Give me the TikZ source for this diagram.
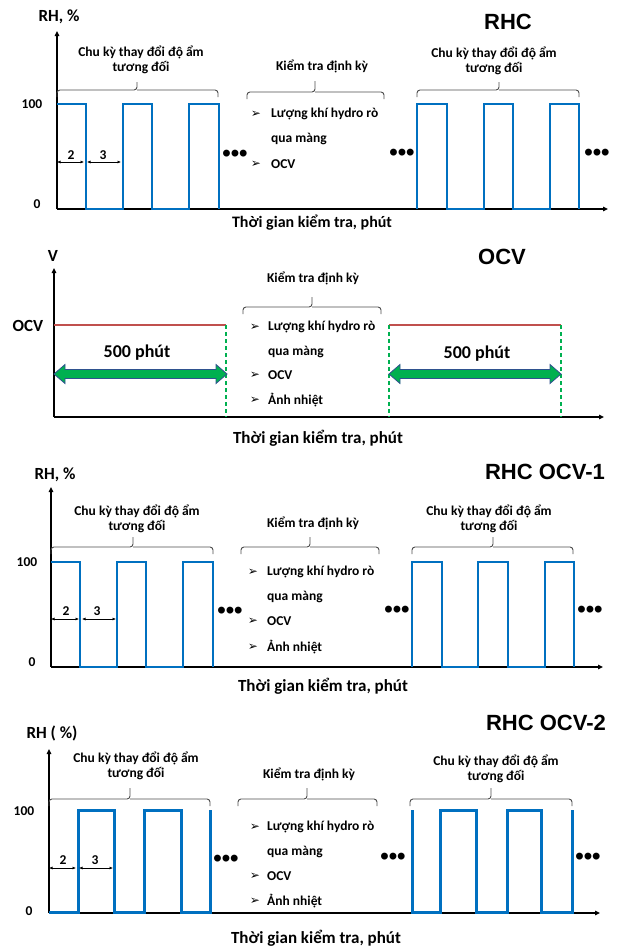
\documentclass[tikz,border=0pt]{standalone}
\usepackage{fontspec}
\setmainfont{Carlito}
\newfontfamily\titlefont{Liberation Sans}
\newfontfamily\symfont{DejaVu Sans}
\usetikzlibrary{arrows.meta}

\definecolor{wblue}{HTML}{0070C0}
\definecolor{ocvred}{HTML}{C0504D}
\definecolor{arrgreen}{HTML}{00B050}
\definecolor{arredge}{HTML}{2F528F}
\newcommand{\arrbul}{{\symfont\fontsize{12}{12}\selectfont ➢}}

\begin{document}
\begin{tikzpicture}[x=1pt, y=-1pt, font=\bfseries\fontsize{13.5}{14.5}\selectfont,
  every node/.style={align=center},
  axis/.style={line width=1.6pt, -{Triangle[length=5pt,width=4.5pt]}},
  wave/.style={wblue, line width=2pt},
  brc/.style={black!70, line width=0.9pt, rounded corners=3pt},
  dim/.style={line width=0.6pt, {Latex[length=3.5pt,width=3pt]}-{Latex[length=3.5pt,width=3pt]}},
  ttl/.style={font=\titlefont\bfseries\fontsize{22}{24}\selectfont},
  xlbl/.style={font=\bfseries\fontsize{17}{18}\selectfont},
  ylbl/.style={font=\bfseries\fontsize{17}{18}\selectfont},
  dots/.style={font=\titlefont\bfseries\fontsize{24}{24}\selectfont},
  item/.style={anchor=west, inner sep=0pt},
  garrow/.style={fill=arrgreen, draw=arredge, line width=0.8pt},
  gdash/.style={arrgreen, line width=1.3pt, dash pattern=on 4pt off 3pt}]
  \useasboundingbox (0,0) rectangle (618,948);

  % RHC
  \draw[axis] (57,209) -- (57,31);
  \draw[axis] (57,209) -- (608,209);
  \draw[wave] (57,104) -- (86,104) -- (86,209) -- (123,209) -- (123,104) -- (152,104) -- (152,209)
    -- (189,209) -- (189,104) -- (219,104) -- (219,209);
  \draw[wave] (417,209) -- (417,104) -- (447,104) -- (447,209) -- (484,209) -- (484,104) -- (513,104)
    -- (513,209) -- (550,209) -- (550,104) -- (579,104) -- (579,209);
  \draw[dim] (57,162) -- (84,162);
  \draw[dim] (87,162) -- (121,162);
  \draw[brc] (57,97) |- (137,90) -- (137,82) (137,90) -| (218,97);
  \draw[brc] (247,99) |- (315,92) -- (315,81) (315,92) -| (384,99);
  \draw[brc] (417,97) |- (499,90) -- (499,82) (499,90) -| (579,97);
  \node[ttl] (t1) at (508,22) {RHC};
  \node[ylbl] (y1) at (59,17) {RH, \%};
  \node (h1) at (32,104) {100};
  \node (z1) at (37,204) {0};
  \node (n1a) at (71,155) {2};
  \node (n1b) at (103,155) {3};
  \node (c1a) at (141,60) {Chu kỳ thay đổi độ ẩm\\tương đối};
  \node (k1) at (322,66) {Kiểm tra định kỳ};
  \node (c1b) at (494,61) {Chu kỳ thay đổi độ ẩm\\tương đối};
  \node (m1a) at (256,114) {\arrbul};
  \node[item] (b1a) at (271,114) {Lượng khí hydro rò};
  \node[item] (b1b) at (271,139) {qua màng};
  \node (m1c) at (256,164) {\arrbul};
  \node[item] (b1c) at (271,164) {OCV};
  \node[dots] (d1a) at (235,156) {•••};
  \node[dots] (d1b) at (402,155) {•••};
  \node[dots] (d1c) at (597,155) {•••};
  \node[xlbl, font=\bfseries\fontsize{16}{17}\selectfont] (x1) at (312,223) {Thời gian kiểm tra, phút};

  % OCV
  \draw[axis] (54,417) -- (54,268);
  \draw[axis] (54,417) -- (604,417);
  \draw[ocvred, line width=1.5pt] (54,325) -- (226,325);
  \draw[ocvred, line width=1.5pt] (389,325) -- (561,325);
  \draw[gdash] (226,325) -- (226,417);
  \draw[gdash] (389,325) -- (389,417);
  \draw[gdash] (561,325) -- (561,417);
  \foreach \a/\b in {54/227, 389/561}
    \draw[garrow] (\a,374) -- (\a+11,364.5) -- (\a+11,369.5) -- (\b-11,369.5) -- (\b-11,364.5) -- (\b,374)
      -- (\b-11,383.5) -- (\b-11,378.5) -- (\a+11,378.5) -- (\a+11,383.5) -- cycle;
  \draw[brc] (243,314) |- (312,307) -- (312,297) (312,307) -| (381,314);
  \node[ttl] (t2) at (502,257) {OCV};
  \node[ylbl] (y2) at (53,256) {V};
  \node[ylbl] (v2) at (28,326) {OCV};
  \node[font=\bfseries\fontsize{18}{19}\selectfont] (p2a) at (137,353) {500 phút};
  \node[font=\bfseries\fontsize{18}{19}\selectfont] (p2b) at (477,354) {500 phút};
  \node (k2) at (313,278) {Kiểm tra định kỳ};
  \node (m2a) at (255,327) {\arrbul};
  \node[item] (b2a) at (268,327) {Lượng khí hydro rò};
  \node[item] (b2b) at (268,352) {qua màng};
  \node (m2c) at (255,375) {\arrbul};
  \node[item] (b2c) at (268,375) {OCV};
  \node (m2d) at (255,400) {\arrbul};
  \node[item] (b2d) at (268,400) {Ảnh nhiệt};
  \node[xlbl] (x2) at (318,438) {Thời gian kiểm tra, phút};

  % RHC OCV-1
  \draw[axis] (51,667) -- (51,487);
  \draw[axis] (51,667) -- (603,667);
  \draw[wave] (51,562) -- (80,562) -- (80,667) -- (117,667) -- (117,562) -- (146,562) -- (146,667)
    -- (183,667) -- (183,562) -- (213,562) -- (213,667);
  \draw[wave] (412,667) -- (412,562) -- (442,562) -- (442,667) -- (478,667) -- (478,562) -- (508,562)
    -- (508,667) -- (545,667) -- (545,562) -- (574,562) -- (574,667);
  \draw[dim] (51,619) -- (79,619);
  \draw[dim] (82,619) -- (116,619);
  \draw[brc] (51,554) |- (133,547) -- (133,537) (133,547) -| (213,554);
  \draw[brc] (241,554) |- (310,547) -- (310,537) (310,547) -| (379,554);
  \draw[brc] (412,554) |- (493,547) -- (493,537) (493,547) -| (573,554);
  \node[ttl] (t3) at (545,472) {RHC OCV-1};
  \node[ylbl] (y3) at (55,475) {RH, \%};
  \node (h3) at (27,562) {100};
  \node (z3) at (32,662) {0};
  \node (n3a) at (66,611) {2};
  \node (n3b) at (97,611) {3};
  \node (c3a) at (137,519) {Chu kỳ thay đổi độ ẩm\\tương đối};
  \node (k3) at (313,523) {Kiểm tra định kỳ};
  \node (c3b) at (489,519) {Chu kỳ thay đổi độ ẩm\\tương đối};
  \node (m3a) at (253,572) {\arrbul};
  \node[item] (b3a) at (267,572) {Lượng khí hydro rò};
  \node[item] (b3b) at (267,597) {qua màng};
  \node (m3c) at (253,621) {\arrbul};
  \node[item] (b3c) at (267,621) {OCV};
  \node (m3d) at (253,647) {\arrbul};
  \node[item] (b3d) at (267,647) {Ảnh nhiệt};
  \node[dots] (d3a) at (230,613) {•••};
  \node[dots] (d3b) at (397,612) {•••};
  \node[dots] (d3c) at (590,612) {•••};
  \node[xlbl] (x3) at (323,686) {Thời gian kiểm tra, phút};

  % RHC OCV-2
  \draw[axis] (49,913) -- (49,749);
  \draw[axis] (49,913) -- (600,913);
  \draw[wave, line width=3pt] (49,912) -- (78,912) -- (78,810) -- (114,810) -- (114,912) -- (144,912)
    -- (144,810) -- (181,810) -- (181,912) -- (210,912) -- (210,810);
  \draw[wave, line width=3pt] (412,810) -- (412,912) -- (440,912) -- (440,810) -- (476,810) -- (476,912)
    -- (507,912) -- (507,810) -- (541,810) -- (541,912) -- (572,912) -- (572,810);
  \draw[dim] (49,868) -- (76,868);
  \draw[dim] (79,868) -- (113,868);
  \draw[brc] (49,806) |- (130,799) -- (130,788) (130,799) -| (210,806);
  \draw[brc] (238,806) |- (307,799) -- (307,788) (307,799) -| (377,806);
  \draw[brc] (410,806) |- (491,799) -- (491,788) (491,799) -| (572,806);
  \node[ttl] (t4) at (546,723) {RHC OCV-2};
  \node[ylbl] (y4) at (52,733) {RH ( \%)};
  \node (h4) at (24,811) {100};
  \node (z4) at (29,911) {0};
  \node (n4a) at (63,860) {2};
  \node (n4b) at (95,860) {3};
  \node (c4a) at (136,766) {Chu kỳ thay đổi độ ẩm\\tương đối};
  \node (k4) at (309,774) {Kiểm tra định kỳ};
  \node (c4b) at (496,769) {Chu kỳ thay đổi độ ẩm\\tương đối};
  \node (m4a) at (255,827) {\arrbul};
  \node[item] (b4a) at (267,827) {Lượng khí hydro rò};
  \node[item] (b4b) at (267,852) {qua màng};
  \node (m4c) at (255,876) {\arrbul};
  \node[item] (b4c) at (267,876) {OCV};
  \node (m4d) at (255,901) {\arrbul};
  \node[item] (b4d) at (267,901) {Ảnh nhiệt};
  \node[dots] (d4a) at (226,861) {•••};
  \node[dots] (d4b) at (393,859) {•••};
  \node[dots] (d4c) at (588,859) {•••};
  \node[xlbl] (x4) at (316,938) {Thời gian kiểm tra, phút};
\end{tikzpicture}
\end{document}
